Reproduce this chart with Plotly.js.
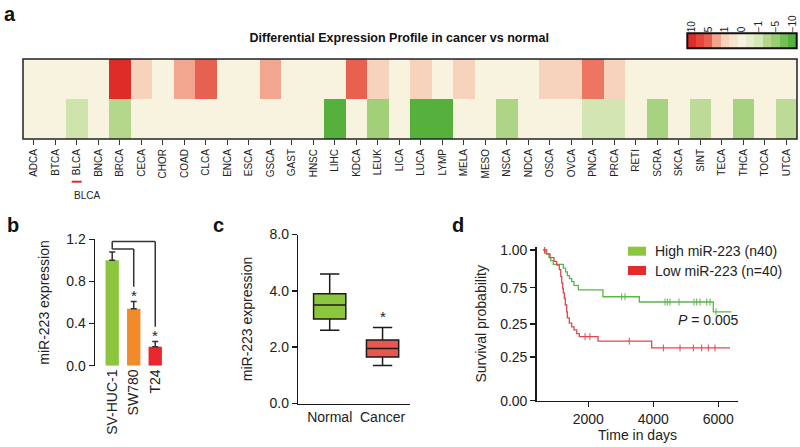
<!DOCTYPE html>
<html><head><meta charset="utf-8">
<script src="https://cdn.plot.ly/plotly-3.0.1.min.js"></script>
<style>html,body{margin:0;padding:0;background:#fff}#chart{width:800px;height:447px}</style>
</head><body><div id="chart"></div>
<script>
// ---------- Panel a : differential expression heatmap ----------
const heatTitle = "Differential Expression Profile in cancer vs normal";
const cancerTypes = ["ADCA","BTCA","BLCA","BNCA","BRCA","CECA","CHOR","COAD","CLCA","ENCA","ESCA","GSCA","GAST","HNSC","LIHC","KDCA","LEUK","LICA","LUCA","LYMP","MELA","MESO","NSCA","NDCA","OSCA","OVCA","PNCA","PRCA","RETI","SCRA","SKCA","SINT","TECA","THCA","TOCA","UTCA"];
const upRegulated   = [0,0,0,0,10,1,0,3,5,0,0,3,0,0,0,5,1,0,1,0,1,0,0,0,1,1,4,1,0,0,0,0,0,0,0,0];
const downRegulated = [0,0,-1.5,0,-3,0,0,0,0,0,0,0,0,0,-10,0,-4.5,0,-10,-10,0,0,-3.5,0,0,0,-1.2,-1.2,0,-4,0,-2.5,0,-4,0,-2.5];
const colorbarValues = [10,7.5,5,3,1,0.5,0,-0.5,-1,-3,-5,-7.5,-10];
const colorbarTickValues = [10,5,1,0,-1,-5,-10];
const colorbarTickText = ["10","5","1","0","\u22121","\u22125","\u221210"];
const highlighted = "BLCA";

// ---------- Panel b : cell lines ----------
const cellLines = ["SV-HUC-1","SW780","T24"];
const cellExpr  = [1.0, 0.54, 0.18];
const cellErr   = [0.08, 0.07, 0.05];
const cellColors = ["#8cc63f","#f08a2a","#e8282c"];
const cellTicks = [0, 0.4, 0.8, 1.2];

// ---------- Panel c : tissue boxes ----------
const tissueGroups = ["Normal","Cancer"];
const tissueLower  = [2.6, 1.35];
const tissueQ1     = [3.0, 1.65];
const tissueMedian = [3.5, 1.95];
const tissueQ3     = [3.9, 2.25];
const tissueUpper  = [4.6, 2.7];
const tissueColors = ["#8cc63f","#e8574f"];
const tissueTickVals = [0,2,4,6];
const tissueTickText = ["0.0","2.0","4.0","8.0"];

// ---------- Panel d : Kaplan-Meier ----------
const kmNames = ["High miR-223 (n40)","Low miR-223 (n=40)"];
const highTimes = [615,720,790,843,923,1231,1300,1354,1420,1489,1560,1692,2450,3570,5846,6400];
const highSurv  = [1.0,0.975,0.95,0.93,0.905,0.88,0.855,0.83,0.81,0.79,0.765,0.735,0.69,0.655,0.59,0.59];
const highCensor = [660,3027,3130,4360,4431,4514,4791,5252,5335,5437,5643,5745,5929];
const lowTimes = [615,700,822,945,1028,1108,1151,1182,1212,1231,1262,1292,1335,1354,1415,1489,1560,1643,1723,2300,3950,6360];
const lowSurv  = [1.0,0.975,0.95,0.925,0.9,0.87,0.825,0.78,0.745,0.715,0.68,0.635,0.59,0.55,0.515,0.49,0.47,0.445,0.425,0.395,0.35,0.35];
const lowCensor = [650,1900,2050,3260,4308,4822,5231,5489,5692,5898];
const kmLineColors = ["#5bb54a","#e2474b"];
const kmLegendColors = ["#8cc63f","#e52a2a"];
const survTickVals = [0,0.29,0.51,0.75,1.0];
const survTickText = ["0.00","0.25","0.25","0.75","1.00"];
const timeTicks = [2000,4000,6000];
const pValueText = "<i>P</i> = 0.005";

// ---------- helpers ----------
const W = 800, H = 447;
const fx = p => p / W;
const fy = p => 1 - p / H;
const FONT = "Liberation Sans, Arial, Helvetica, sans-serif";
const NARROW = "Liberation Sans Narrow, Arial Narrow, Liberation Sans, Arial, sans-serif";
function survAt(times, surv, t) {
  let s = surv[0];
  for (let i = 0; i < times.length; i++) { if (times[i] <= t) s = surv[i]; }
  return s;
}

const colorscale = [
  [0.00, "#56b03c"], [0.10, "#6fbc4f"], [0.25, "#9acd73"], [0.35, "#b4d78c"],
  [0.45, "#d8e7b8"], [0.50, "#f8f3df"], [0.55, "#f8d3bc"], [0.65, "#f2a58f"],
  [0.70, "#ed7663"], [0.75, "#e8604f"], [1.00, "#df2c26"]
];

const traces = [];
traces.push({type:"heatmap", x:cancerTypes, y:[0,1], z:[upRegulated, downRegulated],
  colorscale:colorscale, zmin:-10, zmax:10, showscale:false, xaxis:"x", yaxis:"y", hoverinfo:"x+z"});
traces.push({type:"heatmap", x:colorbarValues.map((v,i)=>i), y:[0], z:[colorbarValues],
  colorscale:colorscale, zmin:-10, zmax:10, showscale:false, xaxis:"x2", yaxis:"y2", hoverinfo:"z"});
traces.push({type:"bar", x:cellLines, y:cellExpr, width:0.62, marker:{color:cellColors},
  error_y:{type:"data", array:cellErr, arrayminus:cellErr.map(()=>0), symmetric:false, color:"#333", thickness:1.5, width:3},
  xaxis:"x3", yaxis:"y3"});
tissueGroups.forEach((g,i)=>{
  traces.push({type:"box", name:g, x:[g], q1:[tissueQ1[i]], median:[tissueMedian[i]], q3:[tissueQ3[i]],
    lowerfence:[tissueLower[i]], upperfence:[tissueUpper[i]], width:0.61, whiskerwidth:0.6,
    fillcolor:tissueColors[i], line:{color:"#1a1a1a", width:1.5}, xaxis:"x4", yaxis:"y4", boxpoints:false});
});
const kmSets = [[highTimes, highSurv, highCensor],[lowTimes, lowSurv, lowCensor]];
kmSets.forEach((s,i)=>{
  traces.push({type:"scatter", mode:"lines", name:kmNames[i], x:s[0], y:s[1], line:{shape:"hv", color:kmLineColors[i], width:1.3}, xaxis:"x5", yaxis:"y5"});
  traces.push({type:"scatter", mode:"markers", name:kmNames[i]+" censored", x:s[2], y:s[2].map(t=>survAt(s[0], s[1], t)),
    marker:{symbol:"line-ns-open", size:5, color:kmLineColors[i], line:{color:kmLineColors[i], width:1}}, xaxis:"x5", yaxis:"y5"});
});

const axisBase = {showgrid:false, zeroline:false, fixedrange:true};
const lineAxis = {showline:true, linewidth:1.5, linecolor:"#1a1a1a", ticks:"outside", ticklen:5, tickwidth:1.5, tickcolor:"#1a1a1a", tickfont:{size:14, color:"#222"}};

const annotations = [];
const panelLabel = (t,x,y)=>({text:"<b>"+t+"</b>", x:fx(x), y:fy(y), xref:"paper", yref:"paper", showarrow:false, font:{size:20, color:"#111"}, xanchor:"center", yanchor:"middle"});
annotations.push(panelLabel("a",10,14), panelLabel("b",12.5,225), panelLabel("c",218,225), panelLabel("d",458,224.5));
annotations.push({text:highlighted, x:fx(72), y:fy(196), xref:"paper", yref:"paper", showarrow:false, font:{size:10, family:NARROW, color:"#222"}});
const starY = cellExpr.map((v,i)=>v + cellErr[i] + 0.09);
[1,2].forEach(i=>annotations.push({text:"*", x:cellLines[i], y:starY[i], xref:"x3", yref:"y3", showarrow:false, yshift:-4, font:{size:15, color:"#222"}}));
annotations.push({text:"*", x:tissueGroups[1], y:tissueUpper[1] + 0.52, xref:"x4", yref:"y4", showarrow:false, yshift:-4, font:{size:15, color:"#222"}});
annotations.push({text:pValueText, x:fx(741), y:fy(330), xref:"paper", yref:"paper", xanchor:"right", showarrow:false, font:{size:14, color:"#222"}});
kmNames.forEach((n,i)=>annotations.push({text:n, x:fx(653), y:fy(251.2 + i*19.3), xref:"paper", yref:"paper", xanchor:"left", yanchor:"middle", showarrow:false, font:{size:14, color:"#222"}}));

const shapes = [];
shapes.push({type:"rect", xref:"x domain", yref:"y domain", x0:0, x1:1, y0:0, y1:1, line:{color:"#222", width:1.5}});
shapes.push({type:"rect", xref:"x2 domain", yref:"y2 domain", x0:0, x1:1, y0:0, y1:1, line:{color:"#111", width:2}});
shapes.push({type:"line", xref:"paper", yref:"paper", x0:fx(71.7), x1:fx(81.7), y0:fy(181.7), y1:fy(181.7), line:{color:"#e8282c", width:2}});
const outerY = Math.max(...cellExpr.map((v,i)=>v+cellErr[i])) + 0.1;
const innerY = outerY - 0.073;
const br = {xref:"x3", yref:"y3", type:"line", line:{color:"#333", width:1.5}};
shapes.push(Object.assign({}, br, {x0:0, x1:2, y0:outerY, y1:outerY}));
shapes.push(Object.assign({}, br, {x0:0, x1:1, y0:innerY, y1:innerY}));
shapes.push(Object.assign({}, br, {x0:0, x1:0, y0:outerY, y1:innerY}));
shapes.push(Object.assign({}, br, {x0:1, x1:1, y0:innerY, y1:starY[1] + 0.05}));
shapes.push(Object.assign({}, br, {x0:2, x1:2, y0:outerY, y1:starY[2] + 0.05}));
kmLegendColors.forEach((c,i)=>shapes.push({type:"rect", xref:"paper", yref:"paper", x0:fx(628), x1:fx(646), y0:fy(246.7 + i*19.3), y1:fy(255.7 + i*19.3), fillcolor:c, line:{width:0}}));

const layout = {
  width:W, height:H, margin:{l:0,r:0,t:0,b:0}, paper_bgcolor:"#fff", plot_bgcolor:"rgba(0,0,0,0)", showlegend:false,
  font:{family:FONT, color:"#222", size:14},
  title:{text:"<b>"+heatTitle+"</b>", x:0.499, xanchor:"center", y:fy(38), yanchor:"middle", xref:"paper", yref:"paper", font:{size:12.5, color:"#111"}},
  xaxis:Object.assign({}, axisBase, {domain:[fx(23),fx(797)], anchor:"y", type:"category", range:[-0.5,35.5], tickangle:-90, ticks:"outside", ticklen:5, tickwidth:1, tickcolor:"#333", tickfont:{family:NARROW, size:10, color:"#222"}, showline:false}),
  yaxis:Object.assign({}, axisBase, {domain:[fy(139),fy(59)], anchor:"x", range:[1.5,-0.5], showticklabels:false, ticks:""}),
  xaxis2:Object.assign({}, axisBase, {domain:[fx(687.3),fx(796.7)], anchor:"y2", range:[-0.5,colorbarValues.length-0.5], side:"top",
    tickvals:colorbarTickValues.map(v=>colorbarValues.indexOf(v)), ticktext:colorbarTickText, tickangle:-90, ticks:"", tickfont:{size:10, color:"#222"}, showline:false}),
  yaxis2:Object.assign({}, axisBase, {domain:[fy(48.3),fy(33.3)], anchor:"x2", range:[-0.5,0.5], visible:false}),
  xaxis3:Object.assign({}, axisBase, {domain:[fx(95),fx(166)], anchor:"y3", type:"category", range:[-0.8,2.5], tickangle:-90, ticks:"", showline:false, tickfont:{size:14, color:"#222"}}),
  yaxis3:Object.assign({}, axisBase, lineAxis, {domain:[fy(365.7),fy(239.3)], anchor:"x3", range:[0,1.2], tickvals:cellTicks, tickformat:".1f",
    title:{text:"miR-223 expression", font:{size:14, color:"#222"}, standoff:13}}),
  xaxis4:Object.assign({}, axisBase, lineAxis, {domain:[fx(298.3),fx(410)], anchor:"y4", type:"category", range:[-0.594,1.519], ticks:""}),
  yaxis4:Object.assign({}, axisBase, lineAxis, {domain:[fy(403.5),fy(234.5)], anchor:"x4", range:[0,6], tickvals:tissueTickVals, ticktext:tissueTickText,
    title:{text:"miR-223 expression", font:{size:14, color:"#222"}, standoff:13}}),
  xaxis5:Object.assign({}, axisBase, lineAxis, {domain:[fx(536.7),fx(738.3)], anchor:"y5", range:[412,6615], tickvals:timeTicks,
    title:{text:"Time in days", font:{size:14, color:"#222"}, standoff:3}}),
  yaxis5:Object.assign({}, axisBase, lineAxis, {domain:[fy(400.7),fy(247)], anchor:"x5", range:[0,1.02], tickvals:survTickVals, ticktext:survTickText,
    title:{text:"Survival probability", font:{size:14, color:"#222"}, standoff:10}}),
  annotations:annotations, shapes:shapes
};

Plotly.newPlot("chart", traces, layout, {displayModeBar:false, staticPlot:true});
</script></body></html>
